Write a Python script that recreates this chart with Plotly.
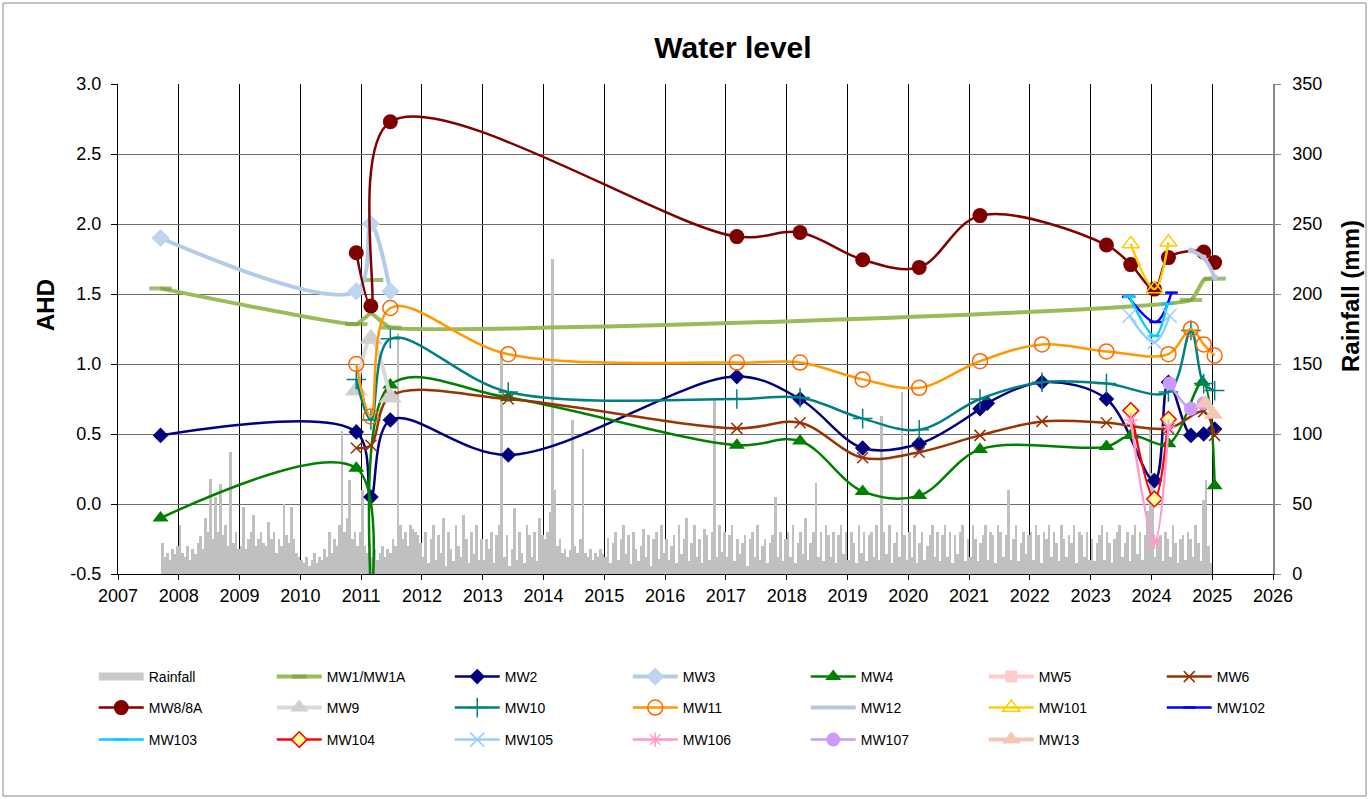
import plotly.graph_objects as go

# ---------------- data ----------------
# rainfall (mm), half-month totals; first bar = 2nd half of Sep 2007
rain_start = 2007 + 17 / 24
rain_2007 = [22, 12, 15, 10, 18, 14, 20]
rain_2008 = [35, 15, 12, 20, 10, 18, 14, 22, 27, 18, 40, 30, 68, 25, 55, 30, 64, 28, 35, 20, 87, 22, 30, 18]
rain_2009 = [20, 48, 18, 25, 30, 42, 20, 25, 30, 22, 20, 37, 25, 30, 15, 25, 20, 50, 28, 22, 48, 25, 15, 12]
rain_2010 = [10, 8, 12, 6, 10, 15, 8, 12, 10, 18, 12, 30, 15, 25, 20, 35, 102, 30, 40, 67, 25, 30, 20, 30]
rain_2011 = [60, 20, 15, 22, 12, 18, 10, 15, 20, 12, 18, 15, 25, 20, 172, 35, 25, 30, 20, 35, 32, 30, 28, 22]
rain_2012 = [12, 30, 8, 25, 35, 10, 28, 15, 40, 6, 30, 18, 9, 35, 20, 12, 42, 25, 8, 30, 14, 35, 10, 25]
rain_2013 = [10, 25, 18, 30, 8, 28, 35, 158, 12, 28, 6, 18, 47, 10, 30, 15, 8, 35, 28, 12, 30, 9, 40, 28]
rain_2014 = [25, 30, 44, 225, 60, 20, 25, 15, 18, 12, 17, 110, 20, 15, 25, 89, 15, 12, 18, 10, 15, 12, 18, 14]
rain_2015 = [12, 26, 8, 22, 30, 10, 25, 35, 14, 28, 7, 30, 18, 9, 20, 32, 12, 28, 6, 25, 30, 11, 35, 15]
rain_2016 = [25, 10, 20, 28, 8, 35, 14, 25, 40, 9, 22, 35, 12, 25, 8, 32, 28, 10, 30, 124, 12, 35, 16, 30]
rain_2017 = [12, 28, 35, 9, 25, 14, 22, 28, 6, 25, 30, 12, 35, 10, 20, 25, 8, 22, 28, 55, 12, 30, 9, 25]
rain_2018 = [30, 12, 35, 8, 22, 30, 14, 40, 10, 22, 30, 65, 12, 30, 9, 35, 28, 12, 30, 8, 28, 35, 14, 30]
rain_2019 = [10, 30, 22, 8, 35, 15, 30, 9, 28, 30, 12, 35, 10, 113, 30, 14, 35, 8, 22, 30, 12, 130, 28, 10]
rain_2020 = [30, 12, 35, 8, 22, 30, 10, 20, 28, 35, 12, 30, 9, 28, 35, 12, 30, 8, 28, 14, 30, 35, 9, 25]
rain_2021 = [12, 35, 25, 9, 22, 28, 35, 10, 30, 28, 8, 35, 30, 12, 28, 60, 10, 25, 35, 9, 22, 30, 14, 28]
rain_2022 = [30, 10, 35, 28, 8, 30, 25, 35, 12, 30, 22, 9, 35, 25, 12, 28, 22, 35, 8, 30, 28, 12, 30, 10]
rain_2023 = [25, 9, 22, 28, 35, 10, 30, 22, 8, 25, 30, 35, 12, 22, 30, 9, 28, 35, 14, 30, 10, 28, 45, 104]
rain_2024 = [72, 12, 25, 28, 9, 30, 25, 12, 35, 22, 8, 25, 28, 10, 30, 25, 12, 35, 22, 9, 53, 67, 20, 8]

# water levels (m AHD); dates in decimal years
mw1_x = [2007.70, 2010.92, 2011.16, 2011.48, 2024.65, 2024.86, 2025.04, None, 2011.18]
mw1_y = [1.54, 1.285, 1.36, 1.26, 1.457, 1.60, 1.61, None, 1.60]

mw2_x = [2007.70, 2010.92, 2011.16, 2011.48, 2013.42, 2017.18, 2018.22, 2019.25, 2020.18,
         2021.18, 2021.30, 2022.20, 2023.26, 2024.05, 2024.28, 2024.65, 2024.86, 2025.04]
mw2_y = [0.49, 0.515, 0.05, 0.60, 0.35, 0.91, 0.75, 0.40, 0.43,
         0.68, 0.72, 0.87, 0.75, 0.167, 0.87, 0.49, 0.50, 0.535]

mw3_x = [2007.70, 2010.92, 2011.16, 2011.48]
mw3_y = [1.90, 1.52, 2.00, 1.52]

mw4_x = [2007.70, 2010.92, 2011.16, 2011.48, 2013.42, 2017.18, 2018.22, 2019.25, 2020.18,
         2021.18, 2023.26, 2023.66, 2024.28, 2024.84, 2025.04]
mw4_y = [-0.10, 0.255, -1.0, 0.85, 0.76, 0.42, 0.45, 0.09, 0.06,
         0.39, 0.41, 0.49, 0.43, 0.87, 0.13]

mw5_x = [2024.0]
mw5_y = [None]

mw6_x = [2010.92, 2011.16, 2011.48, 2013.42, 2017.18, 2018.22, 2019.25, 2020.18, 2021.18,
         2022.20, 2023.26, 2024.28, 2024.86, 2025.04]
mw6_y = [0.40, 0.42, 0.77, 0.75, 0.54, 0.58, 0.33, 0.37, 0.49,
         0.59, 0.58, 0.54, 0.66, 0.49]

mw8_x = [2010.92, 2011.16, 2011.48, 2017.18, 2018.22, 2019.25, 2020.18, 2021.18,
         2023.26, 2023.66, 2024.05, 2024.28, 2024.86, 2025.04]
mw8_y = [1.795, 1.414, 2.73, 1.91, 1.94, 1.745, 1.69, 2.06,
         1.85, 1.71, 1.535, 1.76, 1.80, 1.725]

mw9_x = [2010.92, 2011.16, 2011.48]
mw9_y = [0.81, 1.18, 0.76]

mw10_x = [2010.92, 2011.16, 2011.48, 2013.42, 2017.18, 2018.22, 2019.25, 2020.18, 2021.18,
          2022.20, 2023.26, 2024.28, 2024.65, 2024.86, 2025.04]
mw10_y = [0.89, 0.60, 1.18, 0.80, 0.75, 0.76, 0.61, 0.53, 0.75,
          0.87, 0.86, 0.80, 1.24, 0.86, 0.81]

mw11_x = [2010.92, 2011.16, 2011.48, 2013.42, 2017.18, 2018.22, 2019.25, 2020.18, 2021.18,
          2022.20, 2023.26, 2024.28, 2024.65, 2024.86, 2025.04]
mw11_y = [1.00, 0.625, 1.40, 1.07, 1.01, 1.01, 0.89, 0.83, 1.02,
          1.14, 1.09, 1.07, 1.25, 1.14, 1.06]

mw12_x = [2024.65, 2024.86, 2025.04]
mw12_y = [1.81, 1.76, 1.62]

mw101_x = [2023.66, 2024.05, 2024.28]
mw101_y = [1.857, 1.535, 1.87]

mw102_x = [2023.62, 2024.07, 2024.33]
mw102_y = [1.48, 1.30, 1.51]

mw103_x = [2023.64, 2024.06, 2024.26]
mw103_y = [1.48, 1.20, 1.43]

mw104_x = [2023.66, 2024.05, 2024.28]
mw104_y = [0.667, 0.036, 0.605]

mw105_x = [2023.64, 2024.05, 2024.30]
mw105_y = [1.345, 1.155, 1.345]

mw106_x = [2023.66, 2024.05, 2024.28]
mw106_y = [0.60, -0.27, 0.55]

mw107_x = [2024.30, 2024.65, 2024.86]
mw107_y = [0.86, 0.68, 0.72]

mw13_x = [2024.88, 2025.02]
mw13_y = [0.72, 0.64]

ahd_ticks = [-0.5, 0.0, 0.5, 1.0, 1.5, 2.0, 2.5, 3.0]
ahd_labels = ["-0.5", "0.0", "0.5", "1.0", "1.5", "2.0", "2.5", "3.0"]

# ---------------- figure ----------------
rain = (rain_2007 + rain_2008 + rain_2009 + rain_2010 + rain_2011 + rain_2012 + rain_2013 +
        rain_2014 + rain_2015 + rain_2016 + rain_2017 + rain_2018 + rain_2019 + rain_2020 +
        rain_2021 + rain_2022 + rain_2023 + rain_2024)
rain_step = 1 / 24
rain_x = [rain_start + (i + 0.5) * rain_step for i in range(len(rain))]

FONT = "Arial, 'Liberation Sans', sans-serif"
fig = go.Figure()

fig.add_trace(go.Bar(x=rain_x, y=rain, width=rain_step, name="Rainfall",
                     marker=dict(color="#C0C0C0", line=dict(width=0)),
                     yaxis="y", showlegend=False))
# legend key for the rainfall bars
fig.add_trace(go.Scatter(x=[None], y=[None], name="Rainfall", mode="lines", yaxis="y",
                         line=dict(color="#C8C8C8", width=8), legend="legend"))


def add_line(x, y, name, color, width, symbol, msize, mcolor=None, mline=None,
             mlw=0, legend="legend", sizes=None, smoothing=1.0):
    fig.add_trace(go.Scatter(
        x=x, y=y, name=name, mode="lines+markers", yaxis="y2", legend=legend,
        line=dict(color=color, width=width, shape="spline", smoothing=smoothing),
        marker=dict(symbol=symbol, size=sizes if sizes is not None else msize,
                    color=mcolor or color,
                    line=dict(color=mline or mcolor or color, width=mlw)),
        connectgaps=False))


add_line(mw1_x, mw1_y, "MW1/MW1A", "#9BBB59", 4, "line-ew", 16, mline="#77A33F", mlw=4,
         sizes=[16, 16, 0, 16, 16, 0, 16, 0, 16], smoothing=0.35)
add_line(mw2_x, mw2_y, "MW2", "#000080", 2.5, "diamond", 12)
add_line(mw3_x, mw3_y, "MW3", "#B4CBE8", 4, "diamond", 14, mcolor="#BDD5EF")
add_line(mw4_x, mw4_y, "MW4", "#008000", 2.5, "triangle-up", 14)
add_line(mw5_x, mw5_y, "MW5", "#FFCCCC", 4, "square", 12)
add_line(mw6_x, mw6_y, "MW6", "#993300", 2.5, "x-thin", 11, mlw=1.5)
add_line(mw8_x, mw8_y, "MW8/8A", "#800000", 2.5, "circle", 15, legend="legend2")
add_line(mw9_x, mw9_y, "MW9", "#D9D9D9", 4, "triangle-up", 20, mcolor="#D0D0D0", legend="legend2")
add_line(mw10_x, mw10_y, "MW10", "#008080", 2.5, "cross-thin", 14, mlw=1.5, legend="legend2")
add_line(mw11_x, mw11_y, "MW11", "#FF9900", 2.5, "circle-open", 15, mcolor="#FF6600", mlw=1.5,
         legend="legend2")
add_line(mw12_x, mw12_y, "MW12", "#BCC3E2", 4, "circle", 0, legend="legend2")
add_line(mw101_x, mw101_y, "MW101", "#FFCC00", 2.5, "triangle-up-open", 15, mlw=1.5,
         legend="legend2")
add_line(mw102_x, mw102_y, "MW102", "#0000FF", 2.5, "line-ew", 9, mlw=2.5, legend="legend2")
add_line(mw103_x, mw103_y, "MW103", "#00CCFF", 2.5, "line-ew", 9, mlw=2.5, legend="legend3")
add_line(mw104_x, mw104_y, "MW104", "#FF0000", 2.5, "diamond", 12, mcolor="#FFFF99",
         mline="#FF0000", mlw=1.5, legend="legend3")
add_line(mw105_x, mw105_y, "MW105", "#99CCFF", 2.5, "x-thin", 14, mlw=1.5, legend="legend3")
add_line(mw106_x, mw106_y, "MW106", "#FF99CC", 2.5, "asterisk", 12, mlw=1.5, legend="legend3")
add_line(mw107_x, mw107_y, "MW107", "#CC99FF", 2.5, "circle", 14, legend="legend3")
add_line(mw13_x, mw13_y, "MW13", "#F4C7B5", 4, "triangle-up", 17, legend="legend3")

L, R, T, B = 118, 98, 84, 225
W, H = 1371, 799
pw, ph = W - L - R, H - T - B

leg_common = dict(orientation="h", xanchor="left", yanchor="middle", x=-0.021,
                  entrywidth=118, entrywidthmode="pixels", itemwidth=45,
                  font=dict(family=FONT, size=14, color="black"),
                  bgcolor="rgba(0,0,0,0)", traceorder="normal")


def px_x(px):
    return (px - L) / pw


def px_y(py):
    return (H - B - py) / ph


fig.update_layout(
    width=W, height=H,
    margin=dict(l=L, r=R, t=T, b=B),
    paper_bgcolor="white", plot_bgcolor="white",
    font=dict(family=FONT, color="black"),
    bargap=0,
    title=dict(text="<b>Water level</b>", font=dict(family=FONT, size=30, color="black"),
               x=733 / W, xref="container", xanchor="center",
               y=1 - 47 / H, yref="container", yanchor="middle"),
    xaxis=dict(range=[2007, 2026], tick0=2007, dtick=1, showgrid=True, gridcolor="black",
               gridwidth=1, ticks="outside", ticklen=5, tickcolor="black", showline=True,
               linecolor="black", linewidth=1, zeroline=False,
               tickfont=dict(family=FONT, size=18, color="black")),
    yaxis=dict(range=[0, 350], dtick=50, side="right", showgrid=True, gridcolor="#6E6E6E",
               gridwidth=1, ticks="outside", ticklen=6, tickcolor="#888888", showline=True,
               linecolor="#888888", linewidth=1.5, zeroline=False, ticklabelstandoff=8,
               tickfont=dict(family=FONT, size=18, color="black")),
    yaxis2=dict(range=[-0.5, 3.0], tickvals=ahd_ticks, ticktext=ahd_labels,
                overlaying="y", side="left",
                showgrid=False, ticks="outside", ticklen=6, tickcolor="black", showline=True,
                linecolor="black", linewidth=1, zeroline=False, ticklabelstandoff=6,
                tickfont=dict(family=FONT, size=18, color="black")),
    legend=dict(leg_common, y=px_y(677)),
    legend2=dict(leg_common, y=px_y(708)),
    legend3=dict(leg_common, y=px_y(740)),
    annotations=[
        dict(text="<b>AHD</b>", textangle=-90, xref="paper", yref="paper",
             x=px_x(45), y=px_y(305), xanchor="center", yanchor="middle", showarrow=False,
             font=dict(family=FONT, size=24, color="black")),
        dict(text="<b>Rainfall (mm)</b>", textangle=-90, xref="paper", yref="paper",
             x=px_x(1350), y=px_y(296), xanchor="center", yanchor="middle", showarrow=False,
             font=dict(family=FONT, size=24, color="black")),
    ],
    shapes=[dict(type="rect", xref="paper", yref="paper",
                 x0=px_x(3), x1=px_x(1366), y0=px_y(796), y1=px_y(3),
                 line=dict(color="#888888", width=1), fillcolor="rgba(0,0,0,0)", layer="below")],
)

fig.write_html("out.html", config={"displayModeBar": False},
               post_script="document.body.style.margin='0';")
